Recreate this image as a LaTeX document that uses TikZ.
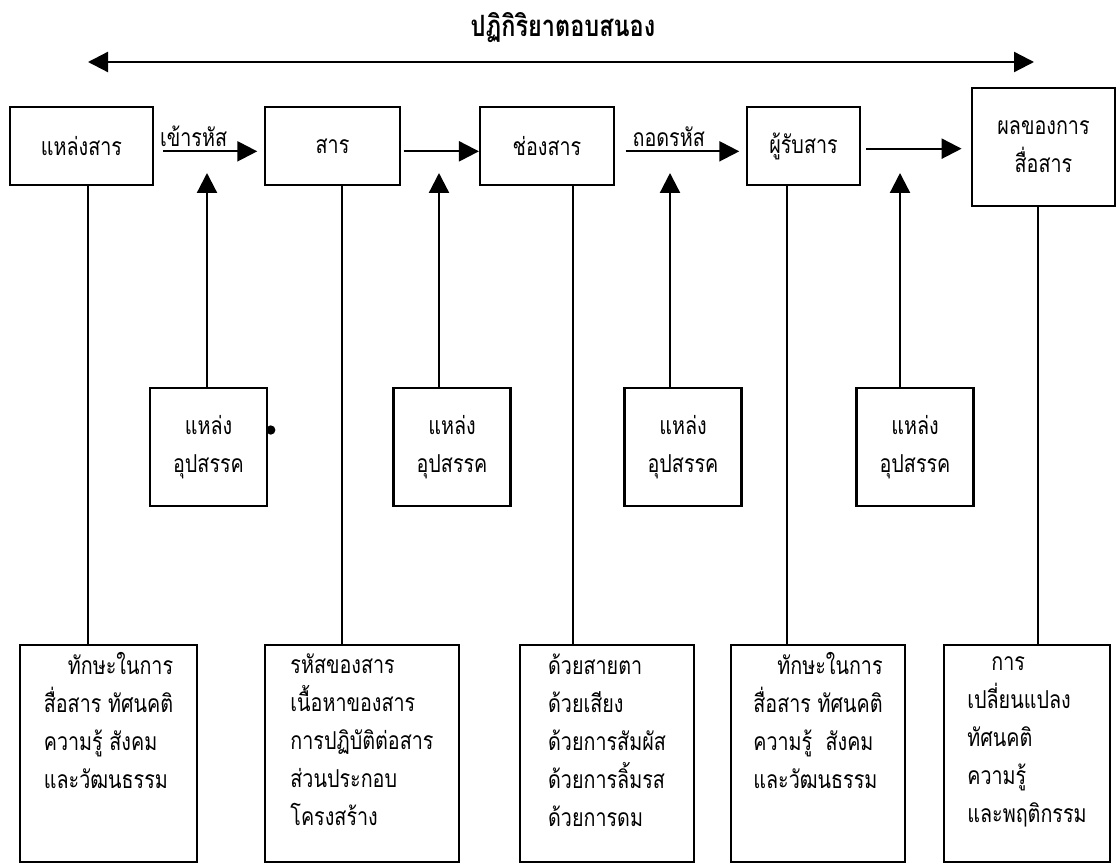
\documentclass[tikz,border=0pt]{standalone}
\usepackage{fontspec}
\newfontfamily\thaifont[Script=Thai, FakeStretch=0.8]{Loma}
\usetikzlibrary{positioning,arrows.meta}

\begin{document}
\begin{tikzpicture}[
        x=0.75pt, y=-0.75pt,
        font=\thaifont\fontsize{18.5}{28.5}\selectfont,
        box/.style={rectangle, draw, line width=1.6pt, align=center, inner sep=2pt},
        topbox/.style={box, minimum height=58.5pt},
        noisebox/.style={box, minimum width=87.75pt, minimum height=88.5pt},
        notebox/.style={box, align=left, minimum height=162.75pt},
        arrow/.style={-{Triangle[length=15pt, width=15pt]}, line width=1.7pt},
        link/.style={line width=1.5pt}
    ]
    \useasboundingbox (0,0) rectangle (1119,866);

    \node[font=\thaifont\bfseries\fontsize{22}{24}\selectfont] (title) at (563,28) {ปฏิกิริยาตอบสนอง};
    \coordinate (fbleft) at (88,62);
    \coordinate (fbright) at (1034,62);
    \draw[{Triangle[length=15pt, width=15pt]}-{Triangle[length=15pt, width=15pt]}, line width=1.7pt] (fbleft) -- (fbright);

    % top row
    \node[topbox, minimum width=107.25pt] (source) at (81.5,146) {แหล่งสาร};
    \node[topbox, minimum width=101.25pt] (message) at (332.5,146) {สาร};
    \node[topbox, minimum width=100.5pt] (channel) at (547,146) {ช่องสาร};
    \node[topbox, minimum width=84.75pt] (receiver) at (803.5,146) {ผู้รับสาร};
    \node[box, minimum width=107.25pt, minimum height=88.5pt] (effect) at (1043.5,147) {ผลของการ\\สื่อสาร};

    \draw[arrow, shorten <=6.75pt, shorten >=5pt] ([yshift=-4pt]source.east) -- ([yshift=-4pt]message.west)
        node[above=-1pt, pos=0.36] (encode) {เข้ารหัส};
    \draw[arrow, shorten <=2pt] ([yshift=-4pt]message.east) -- ([yshift=-4pt]channel.west);
    \draw[arrow, shorten <=8pt, shorten >=5pt] ([yshift=-4pt]channel.east) -- ([yshift=-4pt]receiver.west)
        node[above=-1pt, pos=0.41] (decode) {ถอดรหัส};
    \draw[arrow, shorten <=4pt, shorten >=7pt] ([yshift=-2pt]receiver.east) -- ([yshift=-2pt]receiver.east -| effect.west);

    % noise sources
    \node[noisebox] (noise1) at (208.5,447) {แหล่ง\\อุปสรรค};
    \node[noisebox] (noise2) at (452,447) {แหล่ง\\อุปสรรค};
    \node[noisebox] (noise3) at (683,447) {แหล่ง\\อุปสรรค};
    \node[noisebox] (noise4) at (915,447) {แหล่ง\\อุปสรรค};
    \fill ([xshift=2pt, yshift=12.75pt]noise1.east) circle (3.5pt);

    \coordinate (tip1) at (207,173);
    \coordinate (tip2) at (439,173);
    \coordinate (tip3) at (670,173);
    \coordinate (tip4) at (900,173);
    \foreach \i in {1,...,4}
        \draw[arrow] (noise\i.north -| tip\i) -- (tip\i);

    % notes under each step
    \node[notebox, minimum width=132.75pt] (note1) at (108.5,753.5)
        {\hspace*{18pt}ทักษะในการ\\สื่อสาร ทัศนคติ\\ความรู้ สังคม\\และวัฒนธรรม\\\mbox{}\\[-8pt]\mbox{}};
    \node[notebox, minimum width=145.5pt] (note2) at (362,753.5)
        {รหัสของสาร\\เนื้อหาของสาร\\การปฏิบัติต่อสาร\\ส่วนประกอบ\\โครงสร้าง\\[-8pt]\mbox{}};
    \node[notebox, minimum width=130.5pt] (note3) at (607,753.5)
        {ด้วยสายตา\\ด้วยเสียง\\ด้วยการสัมผัส\\ด้วยการลิ้มรส\\ด้วยการดม\\[-8pt]\mbox{}\hspace*{12pt}};
    \node[notebox, minimum width=130.5pt] (note4) at (818,753.5)
        {\hspace*{18pt}ทักษะในการ\\สื่อสาร ทัศนคติ\\ความรู้~~สังคม\\และวัฒนธรรม\\\mbox{}\\[-8pt]\mbox{}};
    \node[notebox, minimum width=124.5pt] (note5) at (1027,753.5)
        {\hspace*{18pt}การ\\เปลี่ยนแปลง\\ทัศนคติ\\ความรู้\\และพฤติกรรม\\[-8pt]\mbox{}\hspace*{6pt}};

    \coordinate (down1) at (88,0);
    \coordinate (down2) at (342,0);
    \coordinate (down3) at (573,0);
    \coordinate (down4) at (787,0);
    \coordinate (down5) at (1038,0);
    \draw[link] (source.south -| down1) -- (note1.north -| down1);
    \draw[link] (message.south -| down2) -- (note2.north -| down2);
    \draw[link] (channel.south -| down3) -- (note3.north -| down3);
    \draw[link] (receiver.south -| down4) -- (note4.north -| down4);
    \draw[link] (effect.south -| down5) -- (note5.north -| down5);
\end{tikzpicture}
\end{document}
